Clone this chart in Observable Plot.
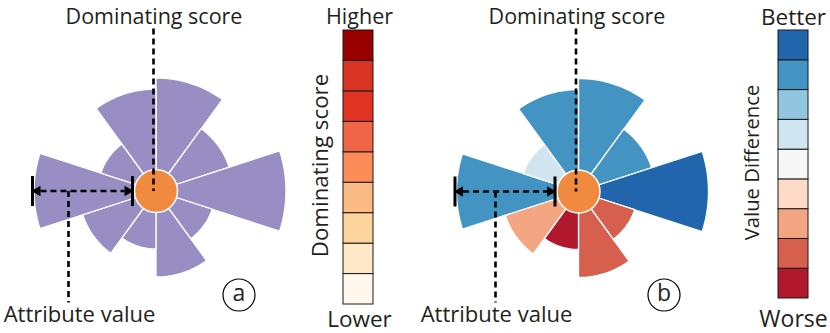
<!DOCTYPE html>
<html><head><meta charset="utf-8">
<script src="https://cdn.jsdelivr.net/npm/d3@7"></script>
<script src="https://cdn.jsdelivr.net/npm/@observablehq/plot@0.6"></script>
<style>html,body{margin:0;padding:0;background:#fff} svg{display:block}</style>
</head><body><div id="chart"></div>
<script>
// ---- data ----
const sectors = [0, 1, 2, 3, 4, 5, 6, 7, 8, 9];
const attributeValues = [113, 77, 130, 59, 86, 58, 77, 122, 58, 102];
const valueDifferenceB = [3, 3, 4, -3, -3, -4, -2, 3, 1, 3];
const scoreLevels = [1, 2, 3, 4, 5, 6, 7, 8, 9];          // Lower -> Higher
const scoreColors = ["#fff7ec", "#fee8c8", "#fdd49e", "#fdbb84", "#fc8d59", "#ef6548", "#e03322", "#d93322", "#990000"];
const diffLevels = [-4, -3, -2, -1, 0, 1, 2, 3, 4];       // Worse -> Better
const diffColors = ["#b2182b", "#d6604d", "#f4a582", "#fddbc7", "#f7f7f7", "#d1e5f0", "#92c5de", "#4393c3", "#2166ac"];
const panelLabels = ["a", "b"];
const topLabel = "Dominating score";
const bottomLabel = "Attribute value";
const scoreLegendTexts = ["Higher", "Lower", "Dominating score"];
const diffLegendTexts = ["Better", "Worse", "Value Difference"];

// ---- layout ----
const W = 830, H = 333;
const FONT = "Open Sans";
const TXT = "#231f20";
const hubR = 21.5, span = 36;
const glyphs = [
  {id: "a", cx: 155.5, cy: 190.5, leaderX: 68, tagX: 238.5, tagY: 294.5, topX: 153.5, botX: 79},
  {id: "b", cx: 578, cy: 191, leaderX: 495, tagX: 663.5, tagY: 294.5, topX: 576.5, botX: 496}
];
const legends = [
  {id: "score", x1: 343, x2: 373, top: 30, bottom: 304, levels: scoreLevels, texts: scoreLegendTexts,
   cx: 359, titleX: 327, topY: 23, botY: 326.5, topFs: 21.5, botFs: 22.5, titleFs: 22.3},
  {id: "diff", x1: 778, x2: 808, top: 30, bottom: 298, levels: diffLevels, texts: diffLegendTexts,
   cx: 793, titleX: 758, topY: 24, botY: 326, topFs: 22.5, botFs: 23, titleFs: 20.3}
];

const colorDomain = ["attr", "hub", ...scoreLevels.map(d => "score:" + d), ...diffLevels.map(d => "diff:" + d)];
const colorRange = ["#998ec3", "#ef8a3e", ...scoreColors, ...diffColors];

// sector polygons
const sectorRows = [];
glyphs.forEach((g, gi) => {
  sectors.forEach(i => {
    const r = attributeValues[i];
    const key = gi === 0 ? "attr" : "diff:" + valueDifferenceB[i];
    const id = g.id + i;
    sectorRows.push({id, key, x: g.cx, y: g.cy});
    const steps = 18;
    for (let s = 0; s <= steps; s++) {
      const a = (i * span + s * span / steps) * Math.PI / 180;
      sectorRows.push({id, key, x: g.cx + r * Math.sin(a), y: g.cy - r * Math.cos(a)});
    }
  });
});

// annotation geometry derived from glyph layout + data
const dashed = [], bars = [], heads = [];
glyphs.forEach(g => {
  const xL = g.cx - attributeValues[7] - 1.5;
  const xR = g.cx - hubR - 2;
  dashed.push({x1: g.cx - 2.5, y1: 28, x2: g.cx - 2.5, y2: g.cy});
  dashed.push({x1: xL + 8, y1: g.cy, x2: xR - 8, y2: g.cy});
  dashed.push({x1: g.leaderX, y1: g.cy, x2: g.leaderX, y2: 302});
  bars.push({x: xL, y1: g.cy - 15, y2: g.cy + 15});
  bars.push({x: xR, y1: g.cy - 15, y2: g.cy + 15});
  heads.push({x: xL + 5, y: g.cy, rot: -90});
  heads.push({x: xR - 5, y: g.cy, rot: 90});
});

const legendCells = [];
legends.forEach(L => {
  const h = (L.bottom - L.top) / L.levels.length;
  L.levels.forEach((v, k) => {
    legendCells.push({key: L.id + ":" + v, x1: L.x1, x2: L.x2, y1: L.bottom - (k + 1) * h, y2: L.bottom - k * h});
  });
});

const textBase = {fontFamily: FONT, fill: TXT, textAnchor: "middle", lineAnchor: "bottom"};

const chart = Plot.plot({
  width: W, height: H,
  margin: 0,
  x: {domain: [0, W], range: [0, W], axis: null},
  y: {domain: [0, H], range: [0, H], axis: null},
  color: {type: "ordinal", domain: colorDomain, range: colorRange},
  style: {background: "#fff", overflow: "visible"},
  marks: [
    Plot.line(sectorRows, {x: "x", y: "y", z: "id", fill: "key", stroke: "white", strokeWidth: 1.3, curve: "linear-closed", strokeLinejoin: "miter"}),
    Plot.dot(glyphs, {x: "cx", y: "cy", r: hubR, fill: () => "hub", stroke: "white", strokeWidth: 1.5}),
    Plot.link(dashed, {x1: "x1", y1: "y1", x2: "x2", y2: "y2", stroke: "black", strokeWidth: 2.6, strokeDasharray: "6,4", strokeLinecap: "butt"}),
    Plot.link(bars, {x1: "x", x2: "x", y1: "y1", y2: "y2", stroke: "black", strokeWidth: 3, strokeLinecap: "butt"}),
    Plot.dot(heads, {x: "x", y: "y", symbol: "triangle2", r: 5, rotate: "rot", fill: "black", stroke: null}),
    Plot.rect(legendCells, {x1: "x1", x2: "x2", y1: "y1", y2: "y2", fill: "key", stroke: "#1a1a1a", strokeWidth: 1}),
    // glyph labels
    Plot.text(glyphs, {...textBase, x: "topX", y: () => 23, text: () => topLabel, fontSize: 21.5}),
    Plot.text(glyphs, {...textBase, x: "botX", y: () => 321, text: () => bottomLabel, fontSize: 22}),
    // panel tags
    Plot.dot(glyphs, {x: "tagX", y: "tagY", r: 16, fill: "white", stroke: "black", strokeWidth: 1.2}),
    Plot.text(glyphs, {x: "tagX", y: "tagY", text: (d, i) => panelLabels[i], fontFamily: FONT, fontSize: 23, fill: TXT, lineAnchor: "middle", dy: -1}),
    // legend texts
    ...legends.map(L => Plot.text([L], {...textBase, x: "cx", y: "topY", text: d => d.texts[0], fontSize: L.topFs})),
    ...legends.map(L => Plot.text([L], {...textBase, x: "cx", y: "botY", text: d => d.texts[1], fontSize: L.botFs})),
    ...legends.map(L => Plot.text([L], {...textBase, x: "titleX", y: d => (d.top + d.bottom) / 2 - 2, text: d => d.texts[2], fontSize: L.titleFs, rotate: -90}))
  ]
});
document.getElementById("chart").appendChild(chart);
</script>
</body></html>
